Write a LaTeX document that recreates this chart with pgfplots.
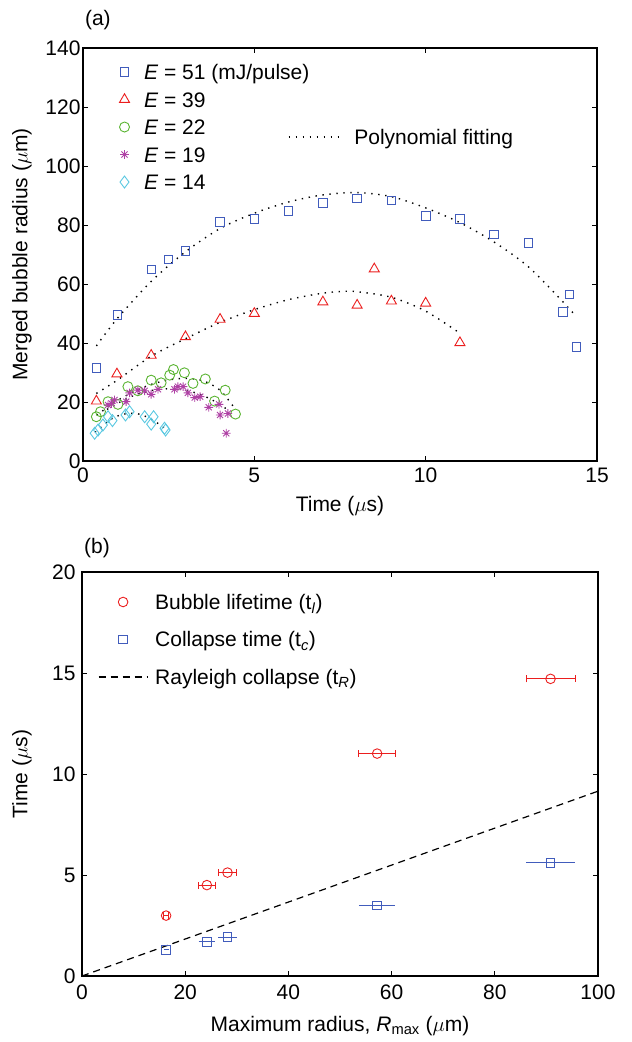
\documentclass[border=0pt]{standalone}
\usepackage{pgfplots}
\pgfplotsset{compat=1.18}
\usepackage{fontspec}
\setmainfont{Liberation Sans}
\definecolor{blueM}{RGB}{65,92,188}
\definecolor{redM}{RGB}{235,30,30}
\definecolor{greenM}{RGB}{90,180,50}
\definecolor{magM}{RGB}{175,65,165}
\definecolor{cyanM}{RGB}{90,200,225}
\newcommand{\fs}{\fontsize{21}{25}\selectfont}
\pgfdeclareplotmark{ast8}{%
  \pgfpathmoveto{\pgfqpoint{0pt}{\pgfplotmarksize}}\pgfpathlineto{\pgfqpoint{0pt}{-\pgfplotmarksize}}%
  \pgfpathmoveto{\pgfqpoint{\pgfplotmarksize}{0pt}}\pgfpathlineto{\pgfqpoint{-\pgfplotmarksize}{0pt}}%
  \pgfpathmoveto{\pgfqpointpolar{45}{\pgfplotmarksize}}\pgfpathlineto{\pgfqpointpolar{225}{\pgfplotmarksize}}%
  \pgfpathmoveto{\pgfqpointpolar{135}{\pgfplotmarksize}}\pgfpathlineto{\pgfqpointpolar{315}{\pgfplotmarksize}}%
  \pgfusepathqstroke}
\pgfplotsset{
  common/.style={
    scale only axis,
    clip=false,
    axis line style={line width=1.3pt},
    tick align=inside,
    major tick length=5pt,
    every tick/.style={black,line width=0.9pt},
    ticklabel style={font=\fs},
    /pgf/number format/assume math mode=true,
    label style={font=\fs},
    legend cell align=left,
  },
  fitline/.style={black,line width=1.4pt,dash pattern=on 1.4pt off 5.6pt,smooth},
  linelegend/.style={legend image code/.code={\draw[##1] (-24.5pt,0pt) -- (24.5pt,0pt);}},
  bluebar/.style={blueM,line width=1pt,forget plot},
}
\begin{document}
\begin{tikzpicture}
\useasboundingbox (0pt,0pt) rectangle (632pt,1042pt);
% ---------------- panel (a)
\begin{axis}[common,
  at={(83pt,581pt)}, anchor=south west,
  width=514pt, height=413pt,
  xmin=0, xmax=15, ymin=0, ymax=140,
  xtick={0,5,10,15}, ytick={0,20,...,140},
  xlabel={Time ($\mu$s)},
  xlabel style={at={(axis description cs:0.5,-0.108)},anchor=center},
  xticklabel style={yshift=-3.5pt},
  ylabel={Merged bubble radius ($\mu$m)},
  ylabel style={at={(axis description cs:-0.1187,0.5)},anchor=center},
  yticklabel style={xshift=1pt},
  legend style={draw=none,fill=none,inner sep=0pt,outer sep=0pt,
    at={(axis description cs:0.071,0.966)},anchor=north west,
    row sep=7.5pt,
    nodes={inner sep=0pt,text height=17.5pt,text depth=2.5pt,font=\fs},
    /tikz/column 1/.style={column sep=14.5pt}},
  legend image code/.code={\draw[#1] plot coordinates {(0pt,0pt)};},
]
\addplot[only marks,mark=square,mark size=4.3pt,mark options={blueM,line width=0.85pt}] coordinates {
(0.39,31.6)(1.0,49.5)(2.0,64.9)(2.49,68.3)(2.99,71.2)(4.0,81.1)(5.0,82.0)(6.0,84.7)(7.0,87.5)(8.0,89.0)(9.0,88.3)(10.0,83.1)(11.0,82.0)(12.0,76.8)(13.0,74.0)(14.0,50.5)(14.2,56.5)(14.4,38.7)};
\addlegendentry{\textit{E} = 51 (mJ/pulse)}
\addplot[only marks,mark=triangle,mark size=5.8pt,mark options={redM,line width=0.9pt}] coordinates {
(0.39,20.3)(0.99,29.5)(1.99,35.8)(2.99,42.1)(4.0,48.0)(5.0,50.0)(7.0,53.9)(8.0,52.8)(8.5,65.1)(9.0,54.2)(10.0,53.5)(11.0,40.1)};
\addlegendentry{\textit{E} = 39}
\addplot[only marks,mark=o,mark size=5pt,mark options={greenM,line width=0.9pt}] coordinates {
(0.39,15.0)(0.51,16.7)(0.73,20.1)(1.02,19.2)(1.31,25.2)(1.60,23.8)(1.99,27.4)(2.28,26.5)(2.53,29.1)(2.64,31.0)(2.96,29.9)(3.21,26.3)(3.57,27.8)(3.84,20.3)(4.15,24.0)(4.45,15.9)};
\addlegendentry{\textit{E} = 22}
\addplot[only marks,mark=ast8,mark size=4.3pt,mark options={magM,line width=0.9pt}] coordinates {
(0.73,19.0)(0.83,19.5)(0.92,20.7)(1.26,20.1)(1.36,23.1)(1.60,24.0)(1.80,23.8)(1.99,22.6)(2.19,24.3)(2.67,24.3)(2.77,25.2)(2.92,25.2)(3.06,23.1)(3.26,21.5)(3.42,21.8)(3.67,18.2)(3.97,19.2)(4.0,15.6)(4.23,16.1)(4.18,9.4)};
\addlegendentry{\textit{E} = 19}
\addplot[only marks,mark=diamond,mark size=6pt,mark options={cyanM,line width=0.9pt}] coordinates {
(0.34,9.4)(0.44,10.5)(0.58,12.2)(0.73,15.0)(0.86,13.7)(1.24,15.6)(1.36,16.7)(1.80,15.0)(1.99,12.5)(2.06,15.0)(2.38,11.1)(2.41,10.5)};
\addlegendentry{\textit{E} = 14}
% fits
\addplot[fitline,forget plot] coordinates {
(0.39,39.0)(1,48.3)(2,61.0)(3,71.0)(4,78.8)(5,84.0)(6,87.8)(7,90.2)(8,91.0)(9,89.6)(10,85.8)(11,80.8)(12,74.2)(13,65.8)(14,54.0)(14.4,48.9)};
\addplot[fitline,forget plot] coordinates {
(0.39,22.9)(1,27.4)(2,35.6)(3,41.5)(4,47.0)(5,51.3)(6,54.7)(7,56.9)(7.6,57.5)(8,57.4)(9,55.5)(10,50.8)(11,43.3)};
\addplot[fitline,forget plot] coordinates {
(0.4,15.5)(0.75,18.5)(1,20.5)(1.5,23.6)(2,26.0)(2.5,27.5)(3,28.0)(3.5,27.2)(4,24.0)(4.45,17.5)};
\addplot[fitline,forget plot] coordinates {
(0.7,17.5)(1,19.5)(1.5,22.3)(2,23.9)(2.5,24.5)(3,24.0)(3.5,22.2)(4,19.2)(4.25,17.0)};
\addplot[fitline,forget plot] coordinates {
(0.35,9.7)(0.6,12.2)(0.875,14.6)(1.1,15.6)(1.36,16.2)(1.6,16.0)(1.85,15.0)(2.1,13.4)(2.4,11.0)};
\node[font=\fs] at (rel axis cs:0.029,1.068) {(a)};
\end{axis}
% second legend for panel (a)
\begin{axis}[
  at={(83pt,581pt)}, anchor=south west,
  width=514pt, height=413pt, scale only axis, hide axis,
  xmin=0, xmax=15, ymin=0, ymax=140,
  legend style={draw=none,fill=none,inner sep=0pt,outer sep=0pt,
    at={(axis description cs:0.3988,0.7845)},anchor=west,
    nodes={inner sep=0pt,text height=17.5pt,text depth=2.5pt,font=\fs},
    /tikz/column 1/.style={column sep=14pt}},
  legend image code/.code={\draw[#1] (0pt,0pt) -- (51pt,0pt);},
]
\addlegendimage{black,line width=1.4pt,dash pattern=on 1.4pt off 5.6pt}
\addlegendentry{Polynomial fitting}
\end{axis}
% ---------------- panel (b)
\begin{axis}[common,
  at={(82pt,66pt)}, anchor=south west,
  width=516pt, height=404pt,
  xmin=0, xmax=100, ymin=0, ymax=20,
  xtick={0,20,...,100}, ytick={0,5,...,20},
  xlabel={Maximum radius, \textit{R}\textsubscript{max} ($\mu$m)},
  xlabel style={at={(axis description cs:0.5,-0.1238)},anchor=center},
  xticklabel style={yshift=-5.5pt},
  ylabel={Time ($\mu$s)},
  ylabel style={at={(axis description cs:-0.1163,0.5)},anchor=center},
  yticklabel style={xshift=-3pt},
  legend style={draw=none,fill=none,inner sep=0pt,outer sep=0pt,
    at={(axis description cs:0.031,0.9505)},anchor=north west,
    row sep=17.5pt,
    nodes={inner sep=0pt,text height=17.5pt,text depth=2.5pt,font=\fs},
    /tikz/column 1/.style={column sep=7pt}},
  legend image code/.code={\draw[#1] plot coordinates {(0pt,0pt)};},
]
\addplot[only marks,mark=o,mark size=4.8pt,color=redM,mark options={redM,line width=0.9pt},
  error bars/.cd,x dir=both,x explicit,error bar style={line width=1pt,redM},
  error mark options={rotate=90,mark size=3.5pt,line width=1pt,redM}]
  coordinates {
  (90.8,14.71) +- (4.75,0)
  (57.2,11.01) +- (3.55,0)
  (28.2,5.12) +- (1.8,0)
  (24.2,4.50) +- (1.6,0)
  (16.3,2.99) +- (0.5,0)};
\addlegendentry{Bubble lifetime (t\textsubscript{\textit{l}})}
% blue horizontal error bars (no caps)
\addplot[bluebar] coordinates {(86.05,5.60) (95.55,5.60)};
\addplot[bluebar] coordinates {(53.65,3.49) (60.75,3.49)};
\addplot[bluebar] coordinates {(26.4,1.92) (30.0,1.92)};
\addplot[bluebar] coordinates {(22.6,1.69) (25.8,1.69)};
\addplot[bluebar] coordinates {(15.8,1.29) (16.8,1.29)};
\addplot[only marks,mark=square,mark size=4.3pt,color=blueM,mark options={blueM,line width=0.85pt}]
  coordinates {(90.8,5.60) (57.2,3.49) (28.2,1.92) (24.2,1.69) (16.3,1.29)};
\addlegendentry{Collapse time (t\textsubscript{\textit{c}})}
\addplot[black,line width=1.2pt,dash pattern=on 7pt off 5pt,linelegend]
  coordinates {(0,0) (100,9.15)};
\addlegendentry{Rayleigh collapse (t\textsubscript{\textit{R}})}
\node[font=\fs] at (rel axis cs:0.029,1.059) {(b)};
\end{axis}
\end{tikzpicture}
\end{document}
